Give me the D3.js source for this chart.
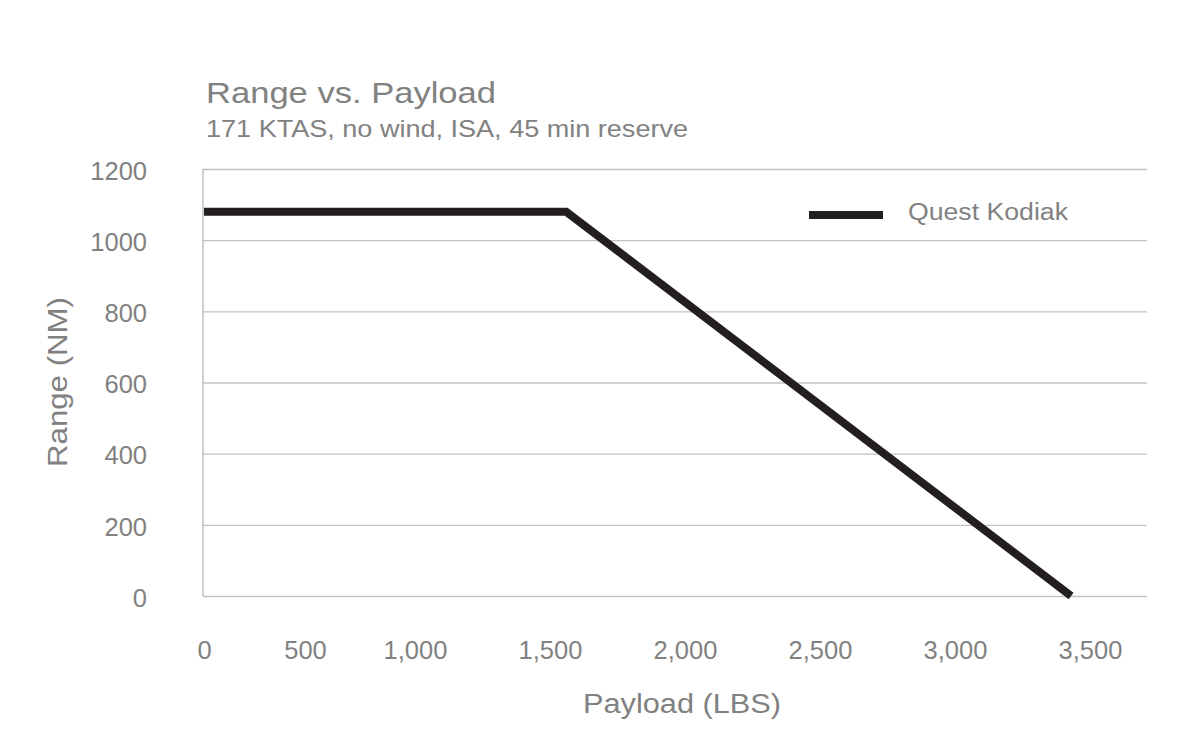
<!DOCTYPE html>
<html>
<head>
<meta charset="utf-8">
<script src="https://cdn.jsdelivr.net/npm/d3@7"></script>
<style>
  html, body { margin: 0; padding: 0; background: #ffffff; }
  svg { display: block; font-family: "Liberation Sans", Arial, Helvetica, sans-serif; }
</style>
</head>
<body>
<svg id="chart" width="1200" height="740"></svg>
<script>
// ---- data ----
const seriesName = "Quest Kodiak";
const payload = [0, 1560, 3430];        // LBS
const range = [1080, 1080, 0];          // NM
const xTickValues = [0, 500, 1000, 1500, 2000, 2500, 3000, 3500];
const yTickValues = [0, 200, 400, 600, 800, 1000, 1200];
const titleText = "Range vs. Payload";
const subtitleText = "171 KTAS, no wind, ISA, 45 min reserve";
const xTitle = "Payload (LBS)";
const yTitle = "Range (NM)";

// ---- layout ----
const plotLeft = 203, plotRight = 1147, plotTop = 169, plotBottom = 596;
const svg = d3.select("#chart");
const textGray = "#818181";

// x labels in the original are not evenly spaced at the low end; polylinear scale reproduces that
const x = d3.scaleLinear()
  .domain([0, 500, 1000, 3500])
  .range([204, 305, 415, 1090]);
const y = d3.scaleLinear().domain([0, 1200]).range([plotBottom, plotTop]);

// gridlines
const grid = svg.append("g")
  .attr("transform", `translate(${plotLeft},0)`)
  .call(d3.axisLeft(y).tickValues(yTickValues).tickSize(-(plotRight - plotLeft)).tickFormat(""));
grid.select(".domain").remove();
grid.selectAll("line").attr("stroke", "#c2c2c2").attr("stroke-width", 1.3);

// left axis line
svg.append("line")
  .attr("x1", plotLeft).attr("x2", plotLeft).attr("y1", y(1200)).attr("y2", y(0))
  .attr("stroke", "#b5b5b5").attr("stroke-width", 1.3);

// y tick labels
const yAxis = svg.append("g")
  .attr("transform", `translate(147,0)`)
  .call(d3.axisLeft(y).tickValues(yTickValues).tickSize(0).tickPadding(0).tickFormat(d3.format("d")));
yAxis.select(".domain").remove();
yAxis.selectAll("text")
  .attr("fill", textGray).attr("font-size", 25.5).attr("font-family", "Liberation Sans, Arial, sans-serif")
  .attr("dy", "0.4em");

// x tick labels
const xAxis = svg.append("g")
  .attr("transform", `translate(0,${plotBottom})`)
  .call(d3.axisBottom(x).tickValues(xTickValues).tickSize(0).tickPadding(0).tickFormat(d3.format(",")));
xAxis.select(".domain").remove();
xAxis.selectAll("text")
  .attr("fill", textGray).attr("font-size", 25.5).attr("font-family", "Liberation Sans, Arial, sans-serif")
  .attr("dy", "0").attr("y", 63);

// data line
const line = d3.line().x((d, i) => x(payload[i])).y((d, i) => y(range[i]));
svg.append("path")
  .datum(payload)
  .attr("d", line)
  .attr("fill", "none")
  .attr("stroke", "#231f20")
  .attr("stroke-width", 8)
  .attr("stroke-linejoin", "miter");

// legend
svg.append("line")
  .attr("x1", 809).attr("x2", 883).attr("y1", 215).attr("y2", 215)
  .attr("stroke", "#231f20").attr("stroke-width", 8);
svg.append("text")
  .attr("x", 908).attr("y", 220)
  .attr("fill", textGray).attr("font-size", 23)
  .attr("textLength", 160).attr("lengthAdjust", "spacingAndGlyphs")
  .text(seriesName);

// titles
svg.append("text")
  .attr("x", 206).attr("y", 103)
  .attr("fill", textGray).attr("font-size", 30)
  .attr("textLength", 290).attr("lengthAdjust", "spacingAndGlyphs")
  .text(titleText);
svg.append("text")
  .attr("x", 206).attr("y", 137)
  .attr("fill", textGray).attr("font-size", 24)
  .attr("textLength", 482).attr("lengthAdjust", "spacingAndGlyphs")
  .text(subtitleText);

// axis titles
svg.append("text")
  .attr("x", 682).attr("y", 713)
  .attr("text-anchor", "middle")
  .attr("fill", textGray).attr("font-size", 27)
  .attr("textLength", 198).attr("lengthAdjust", "spacingAndGlyphs")
  .text(xTitle);
svg.append("text")
  .attr("transform", "translate(67,382) rotate(-90)")
  .attr("text-anchor", "middle")
  .attr("fill", textGray).attr("font-size", 27)
  .attr("textLength", 170).attr("lengthAdjust", "spacingAndGlyphs")
  .text(yTitle);
</script>
</body>
</html>
